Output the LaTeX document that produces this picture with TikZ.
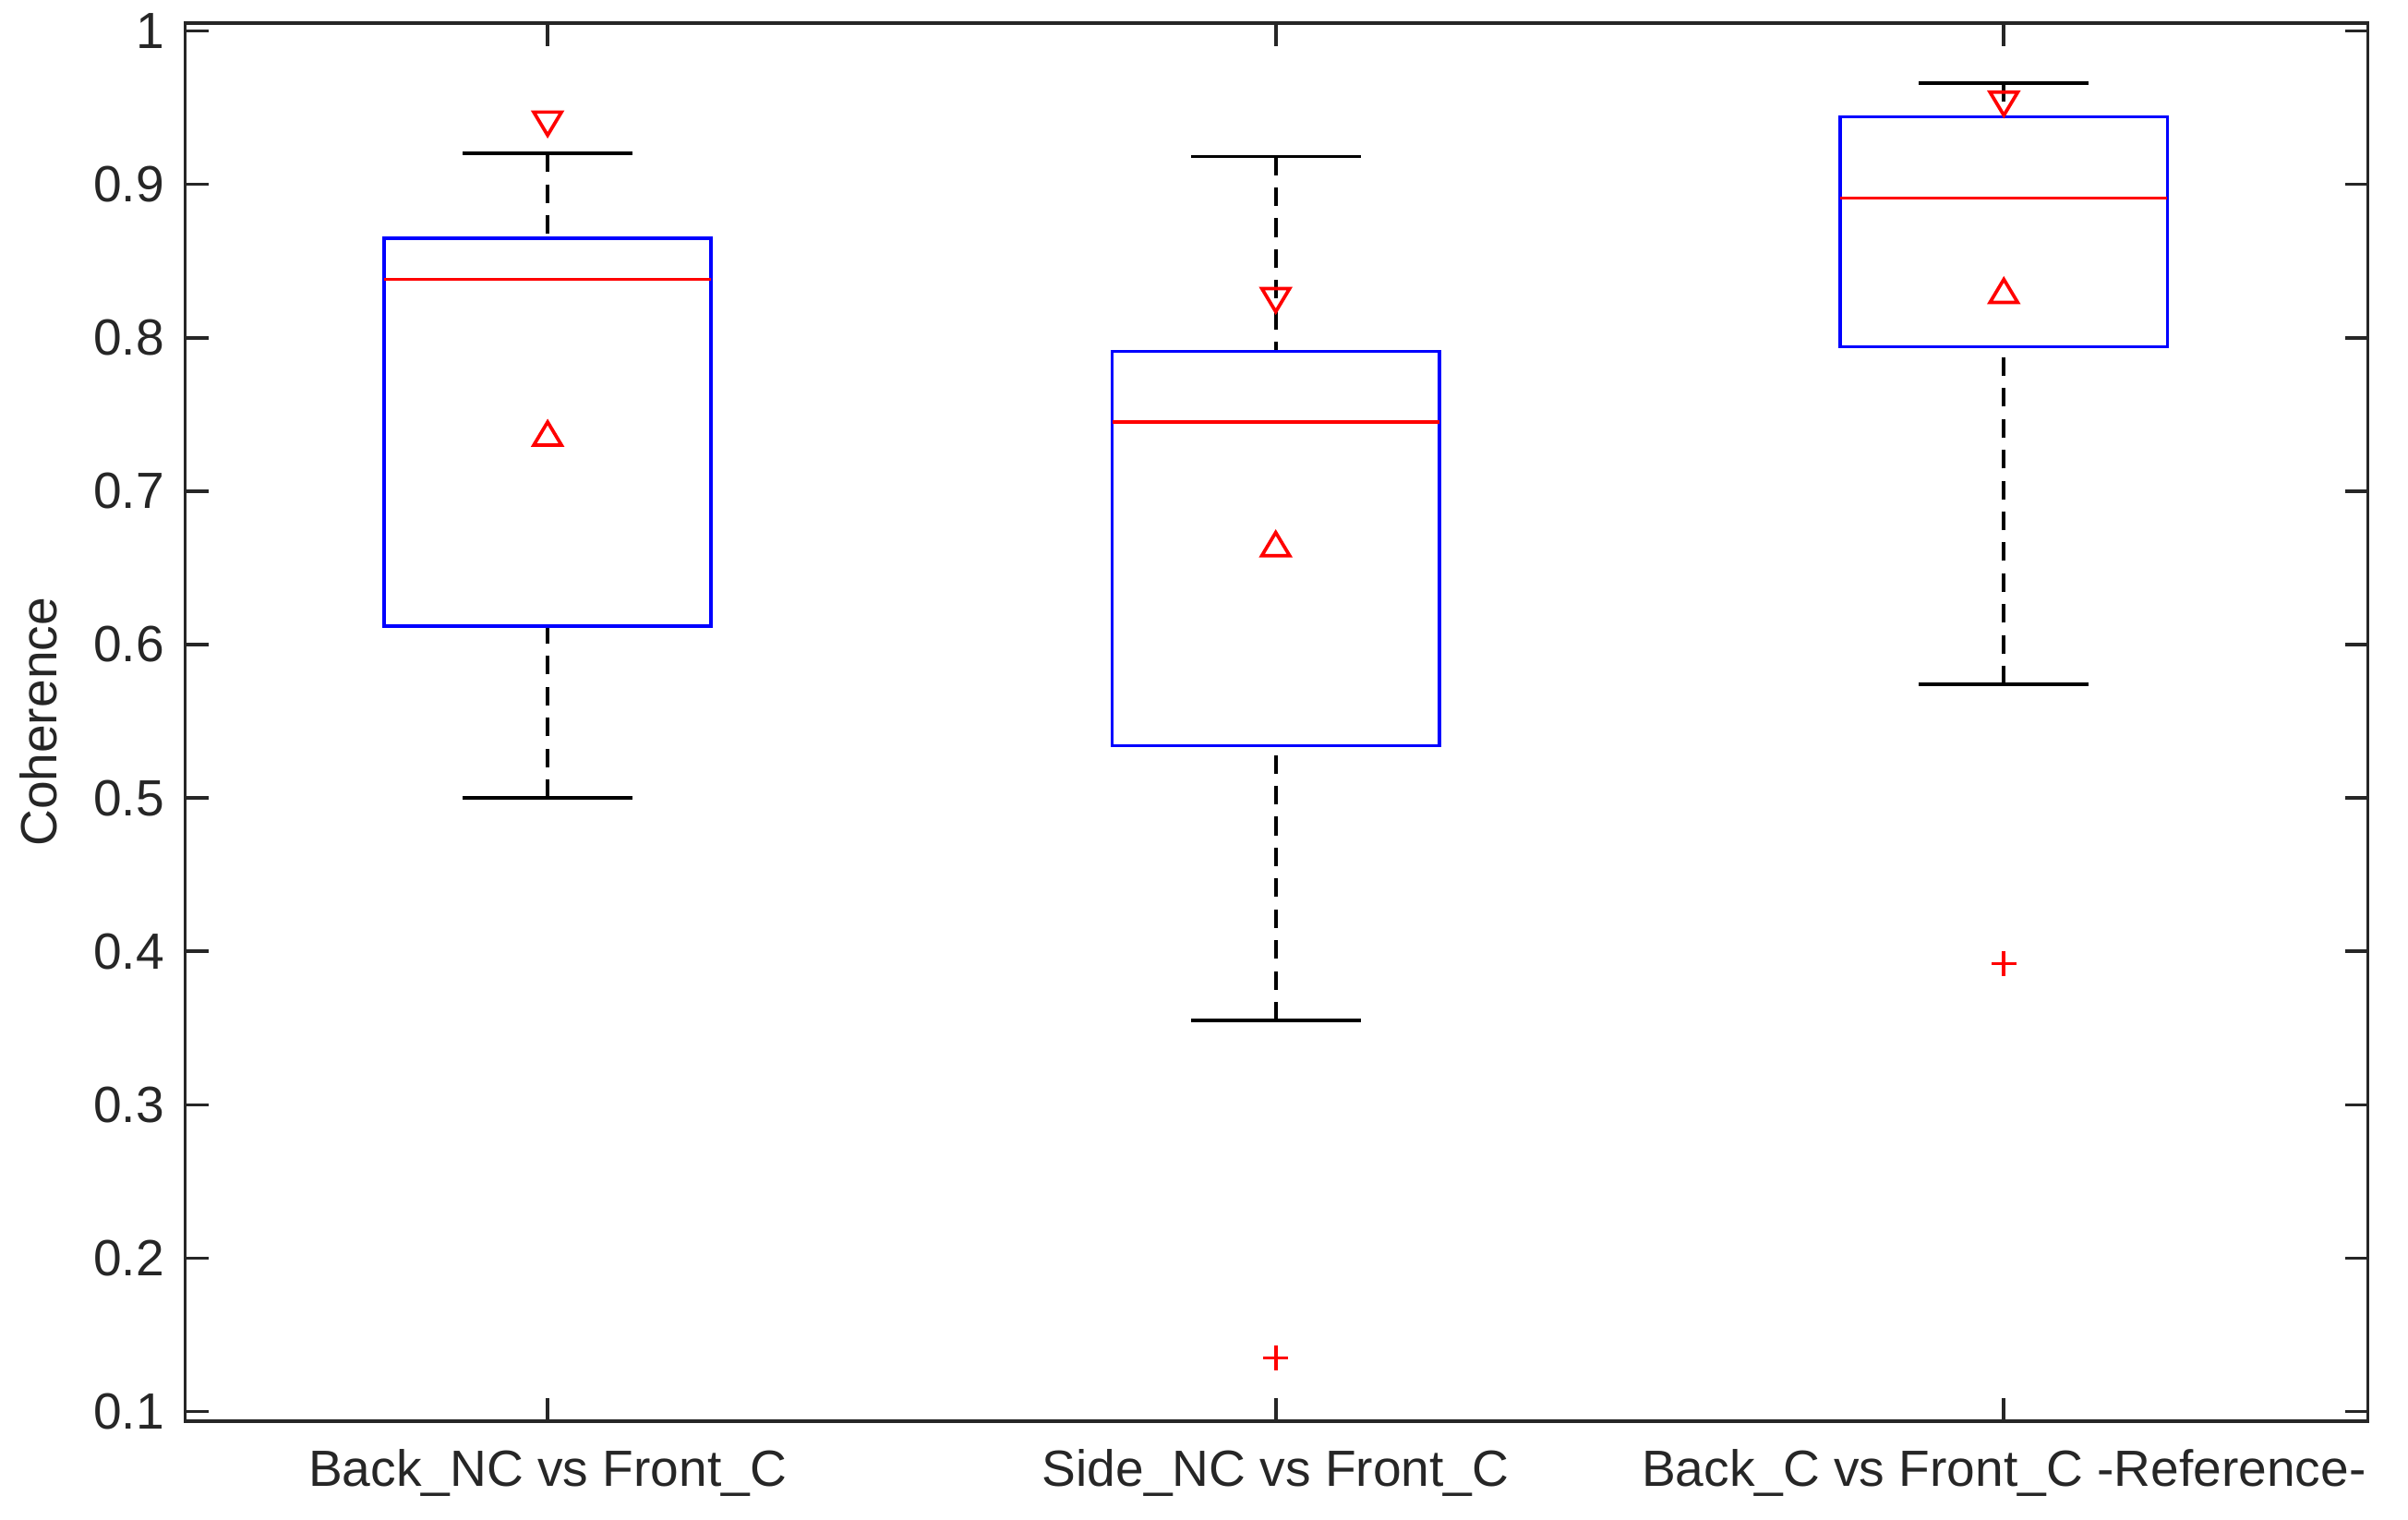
\documentclass[tikz,border=0pt]{standalone}
\usepackage{fontspec}
\setmainfont{Liberation Sans}
\begin{document}
\begin{tikzpicture}[x=1pt,y=-1pt,
  ax/.style={line width=2.2pt,black!85},
  bx/.style={line width=2.2pt,blue},
  md/.style={line width=2.2pt,red},
  wh/.style={line width=2.2pt,black,dash pattern=on 12pt off 8pt},
  capline/.style={line width=2.2pt,black},
  tk/.style={font=\fontsize{33}{36}\selectfont,text=black!85},
  mk/.style={line width=2.2pt,red}]
\useasboundingbox (0,0) rectangle (1561,985);
\def\Y#1{20+(1-#1)*994.4}
\draw[ax] (120,15) rectangle (1535,921);
\foreach \v/\l in {0.1/0.1,0.2/0.2,0.3/0.3,0.4/0.4,0.5/0.5,0.6/0.6,0.7/0.7,0.8/0.8,0.9/0.9,1/1}{
  \draw[ax] (120,{\Y{\v}}) -- ++(15,0);
  \draw[ax] (1535,{\Y{\v}}) -- ++(-15,0);
  \node[tk,anchor=east] at (110,{\Y{\v}}) {\l};
}
\foreach \x in {355,827,1299}{
  \draw[ax] (\x,921) -- ++(0,-15);
  \draw[ax] (\x,15) -- ++(0,15);
}
\node[tk,anchor=north] at (355,936) {Back\_NC vs Front\_C};
\node[tk,anchor=north] at (827,936) {Side\_NC vs Front\_C};
\node[tk,anchor=north] at (1299,936) {Back\_C vs Front\_C -Reference-};
\node[tk,rotate=90] at (25,468) {Coherence};
\foreach \c/\qa/\qb/\m/\wa/\wb/\tu/\td in {355/0.612/0.865/0.838/0.5/0.92/0.737/0.94, 827/0.534/0.791/0.745/0.355/0.918/0.665/0.825, 1299/0.794/0.944/0.891/0.574/0.966/0.83/0.953}{
  \draw[wh] (\c,{\Y{\wb}}) -- (\c,{\Y{\qb}});
  \draw[wh] (\c,{\Y{\wa}}) -- (\c,{\Y{\qa}});
  \draw[capline] (\c-55,{\Y{\wb}}) -- (\c+55,{\Y{\wb}});
  \draw[capline] (\c-55,{\Y{\wa}}) -- (\c+55,{\Y{\wa}});
  \draw[bx] (\c-106,{\Y{\qa}}) rectangle (\c+106,{\Y{\qb}});
  \draw[md] (\c-106,{\Y{\m}}) -- (\c+106,{\Y{\m}});
  \draw[mk] (\c,{\Y{\tu}-8}) -- ++(-9,15) -- ++(18,0) -- cycle;
  \draw[mk] (\c,{\Y{\td}+8}) -- ++(-9,-15) -- ++(18,0) -- cycle;
}
\foreach \c/\o in {827/0.135,1299/0.392}{
  \draw[mk] (\c-8,{\Y{\o}}) -- (\c+8,{\Y{\o}});
  \draw[mk] (\c,{\Y{\o}-8}) -- (\c,{\Y{\o}+8});
}
\end{tikzpicture}
\end{document}
